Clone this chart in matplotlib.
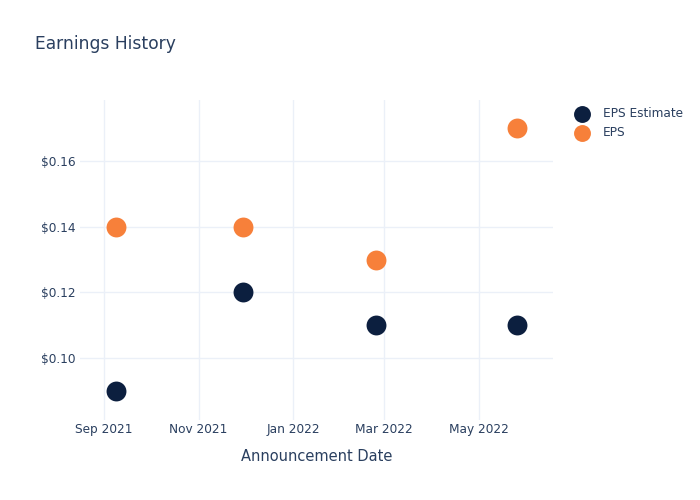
import pandas as pd
import matplotlib
matplotlib.use("Agg")
import matplotlib.pyplot as plt
from matplotlib.ticker import FuncFormatter

# data
dates = pd.to_datetime(["2021-09-08 12:00", "2021-11-30 00:00", "2022-02-23 12:00", "2022-05-26 00:00"])
eps_estimate = [0.09, 0.12, 0.11, 0.11]
eps_actual = [0.14, 0.14, 0.13, 0.17]
tick_dates = pd.to_datetime(["2021-09-01", "2021-11-01", "2022-01-01", "2022-03-01", "2022-05-01"])
tick_labels = ["Sep 2021", "Nov 2021", "Jan 2022", "Mar 2022", "May 2022"]
y_ticks = [0.10, 0.12, 0.14, 0.16]

text_color = "#2a3f5f"
grid_color = "#ebf0f8"
navy = "#0c1f3f"
orange = "#f7803a"

plt.rcParams["font.family"] = ["DejaVu Sans"]

fig = plt.figure(figsize=(7, 5), dpi=100)
ax = fig.add_axes([80 / 700, 80 / 500, 473 / 700, 320 / 500])

ax.scatter(dates, eps_estimate, s=205, color=navy, zorder=3, label="EPS Estimate", linewidths=0)
ax.scatter(dates, eps_actual, s=205, color=orange, zorder=3, label="EPS", linewidths=0)

ax.set_xlim(pd.Timestamp("2021-08-16 10:00"), pd.Timestamp("2022-06-18"))
ax.set_ylim(0.0811, 0.1786)

ax.set_xticks(tick_dates)
ax.set_xticklabels(tick_labels)
ax.set_yticks(y_ticks)
ax.yaxis.set_major_formatter(FuncFormatter(lambda v, p: f"${v:.2f}"))

ax.grid(True, color=grid_color, linewidth=1)
ax.set_axisbelow(True)
for s in ax.spines.values():
    s.set_visible(False)
ax.tick_params(length=0, labelsize=8.7, colors=text_color)
ax.tick_params(axis="x", pad=2)
ax.tick_params(axis="y", pad=3)

ax.set_xlabel("Announcement Date", fontsize=10.5, color=text_color, labelpad=9.5)

fig.text(35 / 700, 1 - 44 / 500, "Earnings History", fontsize=12.3, color=text_color,
         va="center", ha="left")

leg = ax.legend(loc="upper left", bbox_to_anchor=(570 / 700, 1 - 107 / 500),
                bbox_transform=fig.transFigure, frameon=False, fontsize=8.7,
                labelcolor=text_color, handletextpad=0.7, labelspacing=0.5,
                borderaxespad=0, borderpad=0, markerscale=0.85)

fig.savefig("out.png", dpi=100)
